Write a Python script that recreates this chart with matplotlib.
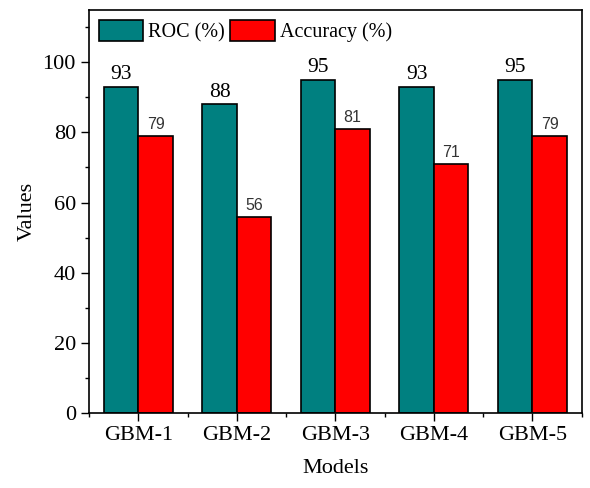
import matplotlib.pyplot as plt
import numpy as np

models = ["GBM-1", "GBM-2", "GBM-3", "GBM-4", "GBM-5"]
roc = [93, 88, 95, 93, 95]
accuracy = [79, 56, 81, 71, 79]

plt.rcParams['font.family'] = ['Liberation Serif', 'DejaVu Serif']

fig, ax = plt.subplots(figsize=(5.9, 4.88), dpi=100)
fig.subplots_adjust(left=0.151, right=0.986, top=0.98, bottom=0.154)

x = np.arange(len(models))
w = 0.35
b1 = ax.bar(x - w / 2, roc, w, color='#008080', edgecolor='black', linewidth=1.2, label='ROC (%)')
b2 = ax.bar(x + w / 2, accuracy, w, color='#ff0000', edgecolor='black', linewidth=1.2, label='Accuracy (%)')

for r in b1:
    ax.text(r.get_x() + r.get_width() / 2, r.get_height() + 0.8, "%d" % r.get_height(),
            ha='center', va='bottom', fontsize=15.5)
for r in b2:
    ax.text(r.get_x() + r.get_width() / 2, r.get_height() + 1.0, "%d" % r.get_height(),
            ha='center', va='bottom', fontsize=11.5, family='Liberation Sans', color='#333333')

ax.set_xlim(-0.5, 4.5)
ax.set_ylim(0, 115)
ax.set_xticks(x)
ax.set_xticklabels(models)
ax.set_xticks(np.arange(-0.5, 5, 1), minor=True)
ax.set_yticks(np.arange(0, 101, 20))
ax.set_yticks(np.arange(0, 111, 10), minor=True)
ax.tick_params(axis='both', which='major', direction='out', length=6, width=1, labelsize=16)
ax.tick_params(axis='both', which='minor', direction='out', length=3, width=1)
for s in ax.spines.values():
    s.set_linewidth(1.2)

ax.set_xlabel("Models", fontsize=16, labelpad=10)
ax.set_ylabel("Values", fontsize=16, labelpad=4)

ax.legend(loc='upper left', ncol=2, frameon=False, fontsize=14.5, handlelength=2.2, handleheight=1.25,
          columnspacing=0.25, handletextpad=0.25, borderaxespad=0.2, borderpad=0.3)

plt.savefig("out.png", dpi=100)
